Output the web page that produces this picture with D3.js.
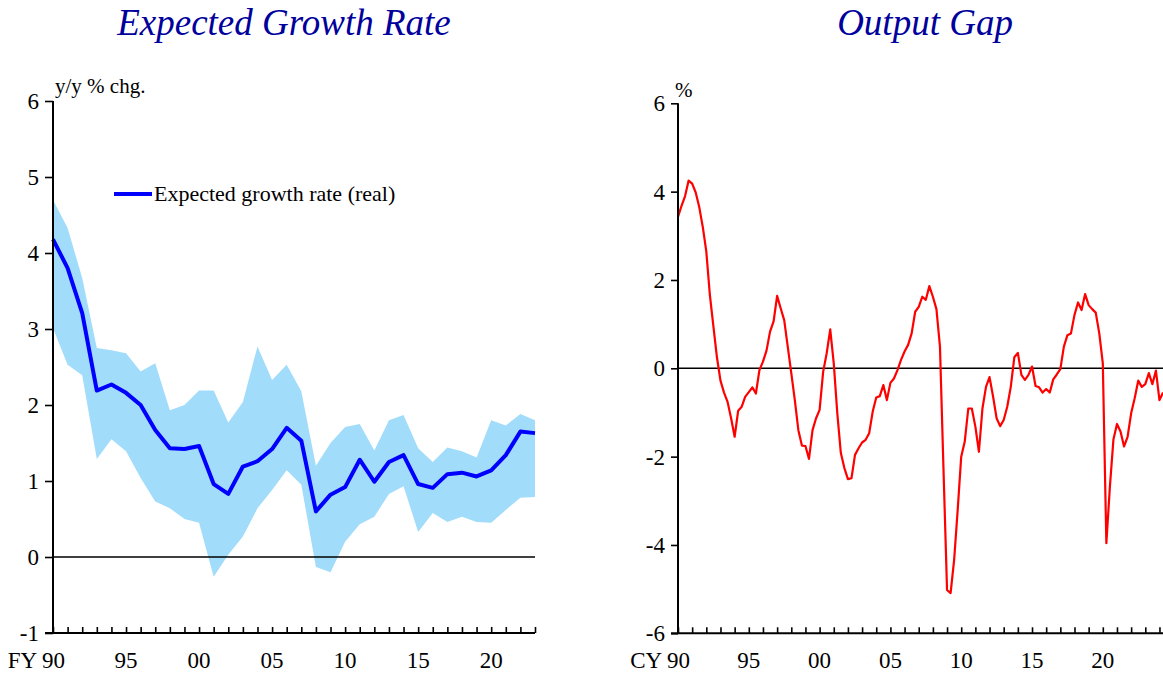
<!DOCTYPE html>
<html><head><meta charset="utf-8">
<script src="https://cdn.jsdelivr.net/npm/d3@7"></script>
<style>
body{margin:0;background:#fff;}
svg{display:block;font-family:"Liberation Serif","Times New Roman",serif;}
</style></head>
<body>
<svg id="c" width="1163" height="673"></svg>
<script>
// ---- Left chart data (fiscal years 1990-2023) ----
const fyYears = d3.range(1990, 2024);
const growthMean = [4.18,3.80,3.21,2.19,2.27,2.16,2.00,1.67,1.43,1.42,1.46,0.96,0.83,1.19,1.26,1.42,1.70,1.53,0.60,0.82,0.92,1.28,0.99,1.25,1.34,0.96,0.91,1.09,1.11,1.06,1.14,1.34,1.65,1.63];
const growthUpper = [4.70,4.33,3.67,2.75,2.72,2.68,2.44,2.55,1.93,2.00,2.19,2.19,1.77,2.04,2.77,2.33,2.53,2.18,1.20,1.50,1.71,1.75,1.40,1.80,1.87,1.43,1.25,1.44,1.39,1.31,1.80,1.73,1.88,1.80];
const growthLower = [3.01,2.53,2.39,1.29,1.55,1.39,1.04,0.73,0.64,0.50,0.45,-0.26,0.03,0.27,0.64,0.88,1.14,0.95,-0.13,-0.20,0.20,0.43,0.53,0.83,0.93,0.33,0.58,0.46,0.53,0.46,0.45,0.62,0.78,0.79];
const leftYTicks = [-1,0,1,2,3,4,5,6];
const leftXLabels = [[1990,"FY 90"],[1995,"95"],[2000,"00"],[2005,"05"],[2010,"10"],[2015,"15"],[2020,"20"]];

// ---- Right chart data (quarterly, 1990Q1 - 2024Q2) ----
const gapStart = 1990;
const outputGap = [
3.43,3.68,3.90,4.25,4.18,3.98,3.65,3.20,2.64,1.66,
0.95,0.25,-0.28,-0.55,-0.76,-1.13,-1.55,-0.96,-0.87,-0.64,
-0.54,-0.43,-0.57,-0.04,0.15,0.40,0.83,1.06,1.64,1.36,
1.09,0.49,-0.11,-0.72,-1.40,-1.75,-1.76,-2.05,-1.40,-1.13,
-0.94,-0.08,0.34,0.88,0.11,-1.02,-1.92,-2.26,-2.51,-2.49,
-1.96,-1.81,-1.68,-1.62,-1.47,-0.98,-0.66,-0.63,-0.38,-0.72,
-0.33,-0.23,-0.04,0.19,0.38,0.53,0.79,1.28,1.39,1.62,
1.55,1.86,1.62,1.34,0.49,-2.30,-5.02,-5.09,-4.34,-3.21,
-2.00,-1.66,-0.91,-0.91,-1.32,-1.89,-0.91,-0.42,-0.20,-0.64,
-1.13,-1.31,-1.17,-0.87,-0.42,0.25,0.35,-0.15,-0.26,-0.15,
0.04,-0.40,-0.43,-0.55,-0.47,-0.55,-0.25,-0.14,-0.02,0.49,
0.75,0.79,1.21,1.49,1.32,1.68,1.43,1.34,1.26,0.79,
0.11,-3.96,-2.68,-1.61,-1.26,-1.43,-1.77,-1.55,-1.02,-0.68,
-0.28,-0.42,-0.36,-0.11,-0.36,-0.05,-0.72,-0.55];
const rightYTicks = [-6,-4,-2,0,2,4,6];
const rightXLabels = [[1990,"CY 90"],[1995,"95"],[2000,"00"],[2005,"05"],[2010,"10"],[2015,"15"],[2020,"20"]];

const svg = d3.select("#c");
const titleColor = "#00009c";
const FONT = "Liberation Serif, Times New Roman, serif";
const tickFmt = d => String(d);

// ================= LEFT CHART =================
const xL = d3.scaleLinear().domain([1990, 2023]).range([53, 535]);
const yL = d3.scaleLinear().domain([-1, 6]).range([633, 101]);
const gL = svg.append("g");

gL.append("text").attr("x", 284).attr("y", 35).attr("text-anchor","middle")
  .attr("font-size", 37).attr("font-style","italic").attr("fill", titleColor)
  .text("Expected Growth Rate");

const band = fyYears.map((y,i)=>({x:y, lo:growthLower[i], hi:growthUpper[i], m:growthMean[i]}));
gL.append("path").datum(band)
  .attr("fill","#a2dcfb").attr("stroke","none")
  .attr("d", d3.area().x(d=>xL(d.x)).y0(d=>yL(d.lo)).y1(d=>yL(d.hi)));

gL.append("line").attr("x1", xL(1990)).attr("x2", xL(2023)).attr("y1", yL(0)).attr("y2", yL(0))
  .attr("stroke","#000").attr("stroke-width",1.5);

gL.append("path").datum(band)
  .attr("fill","none").attr("stroke","#0000ff").attr("stroke-width",4).attr("stroke-linejoin","round")
  .attr("d", d3.line().x(d=>xL(d.x)).y(d=>yL(d.m)));

const yAxL = gL.append("g").attr("transform",`translate(${xL(1990)},0)`)
  .call(d3.axisLeft(yL).tickValues(leftYTicks).tickSize(8).tickFormat(tickFmt));
const xAxL = gL.append("g").attr("transform",`translate(0,${yL(-1)})`)
  .call(d3.axisTop(xL).tickValues(d3.range(1990,2024)).tickSize(6).tickFormat(""));
[yAxL, xAxL].forEach(a=>{
  a.select(".domain").attr("stroke","#000").attr("stroke-width",2);
  a.selectAll(".tick line").attr("stroke","#000").attr("stroke-width",1.6);
});
xAxL.select(".domain").attr("d", `M${xL(1990)-8},0H${xL(2023)}`);
yAxL.select(".domain").attr("d", `M0,${yL(6)}V${yL(-1)}`);
yAxL.selectAll(".tick text").attr("font-family",FONT).attr("font-size",23).attr("fill","#000").attr("x",-14);
gL.selectAll(".xlab").data(leftXLabels).join("text")
  .attr("x", d=>xL(d[0])).attr("y", 668).attr("font-size",23)
  .attr("text-anchor", d=>d[0]===1990 ? "end" : "middle")
  .attr("dx", d=>d[0]===1990 ? 12 : 0)
  .text(d=>d[1]);
gL.append("text").attr("x",55).attr("y",93).attr("font-size",21).text("y/y % chg.");

// legend
gL.append("line").attr("x1",114).attr("x2",152).attr("y1",194).attr("y2",194)
  .attr("stroke","#0000ff").attr("stroke-width",4);
gL.append("text").attr("x",154).attr("y",201).attr("font-size",22).text("Expected growth rate (real)");

// ================= RIGHT CHART =================
const xR = d3.scaleLinear().domain([1990, 2024.25]).range([678, 1163]);
const yR = d3.scaleLinear().domain([-6, 6]).range([633.3, 103.3]);
const gR = svg.append("g");

gR.append("text").attr("x", 925).attr("y", 35).attr("text-anchor","middle")
  .attr("font-size", 37).attr("font-style","italic").attr("fill", titleColor)
  .text("Output Gap");

gR.append("line").attr("x1", xR(1990)).attr("x2", 1163).attr("y1", yR(0)).attr("y2", yR(0))
  .attr("stroke","#000").attr("stroke-width",1.5);

gR.append("path").datum(outputGap)
  .attr("fill","none").attr("stroke","#ff0000").attr("stroke-width",2.2).attr("stroke-linejoin","round")
  .attr("d", d3.line().x((d,i)=>xR(gapStart + i/4)).y(d=>yR(d)));

const yAxR = gR.append("g").attr("transform",`translate(${xR(1990)},0)`)
  .call(d3.axisLeft(yR).tickValues(rightYTicks).tickSize(7).tickFormat(tickFmt));
const xAxR = gR.append("g").attr("transform",`translate(0,${yR(-6)})`)
  .call(d3.axisTop(xR).tickValues(d3.range(1990,2025)).tickSize(6).tickFormat(""));
[yAxR, xAxR].forEach(a=>{
  a.select(".domain").attr("stroke","#000").attr("stroke-width",2);
  a.selectAll(".tick line").attr("stroke","#000").attr("stroke-width",1.6);
});
xAxR.select(".domain").attr("d", `M${xR(1990)-7},0H1163`);
yAxR.select(".domain").attr("d", `M0,${yR(6)}V${yR(-6)}`);
yAxR.selectAll(".tick text").attr("font-family",FONT).attr("font-size",23).attr("fill","#000").attr("x",-13);
gR.selectAll(".xlab").data(rightXLabels).join("text")
  .attr("x", d=>xR(d[0])).attr("y", 668).attr("font-size",23)
  .attr("text-anchor", d=>d[0]===1990 ? "end" : "middle")
  .attr("dx", d=>d[0]===1990 ? 12 : 0)
  .text(d=>d[1]);
gR.append("text").attr("x",675).attr("y",97).attr("font-size",21).text("%");
</script>
</body></html>
